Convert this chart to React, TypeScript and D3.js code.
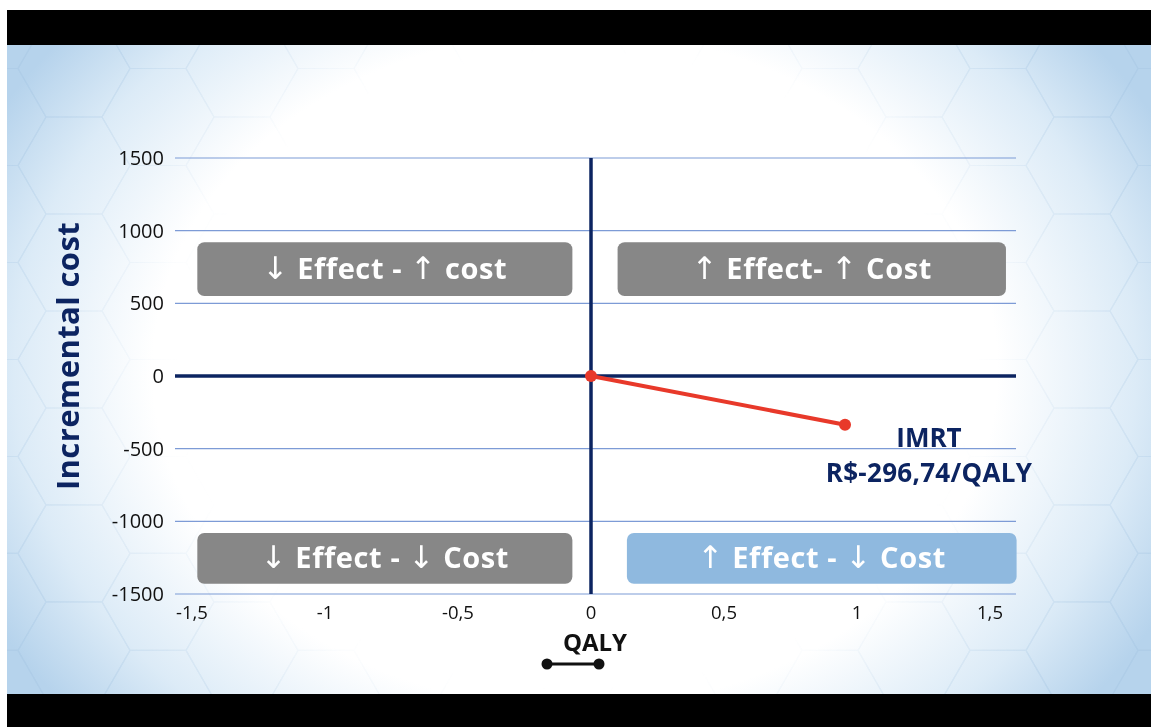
import React from "react";
import * as d3 from "d3";

const W = 1151;
const H = 727;

const yTicks = [1500, 1000, 500, 0, -500, -1000, -1500];
const xTicks = [-1.5, -1, -0.5, 0, 0.5, 1, 1.5];
const xTickLabels = ["-1,5", "-1", "-0,5", "0", "0,5", "1", "1,5"];

// IMRT segment: origin to result point (QALY gained, incremental cost)
const seriesQaly = [0, 0.955];
const seriesCost = [0, -335];

const quadrants = [
  { a1: "↓", t1: " Effect - ", a2: "↑", t2: " cost", x0: -1.48, x1: -0.07, y0: 920, y1: 550, fill: "#878787" },
  { a1: "↑", t1: " Effect- ", a2: "↑", t2: " Cost", x0: 0.1, x1: 1.56, y0: 920, y1: 550, fill: "#878787" },
  { a1: "↓", t1: " Effect - ", a2: "↓", t2: "  Cost", x0: -1.48, x1: -0.07, y0: -1080, y1: -1430, fill: "#878787" },
  { a1: "↑", t1: " Effect - ", a2: "↓", t2: " Cost", x0: 0.135, x1: 1.6, y0: -1080, y1: -1430, fill: "#8fb9df" },
];

export default function App() {
  const x = d3.scaleLinear().domain([-1.5, 1.5]).range([192, 990]);
  const y = d3.scaleLinear().domain([-1500, 1500]).range([594, 158]);
  const gridX0 = 175;
  const gridX1 = 1016;
  const navy = "#0c2461";
  const font = "'Open Sans', 'Noto Sans', sans-serif";
  const arrowFont = "'DejaVu Sans', sans-serif";

  const pts = seriesQaly.map((q, i) => [x(q), y(seriesCost[i])] as [number, number]);
  const line = d3.line()(pts) || "";

  // hex pattern
  const hr = 56;
  const hexPath = d3.range(6).map((k) => {
    const a = (Math.PI / 3) * k;
    return [hr * Math.cos(a), hr * Math.sin(a)];
  });
  const hexD = "M" + hexPath.map((p) => p.join(",")).join("L") + "Z";
  const hexes: [number, number][] = [];
  const dx = hr * 1.5;
  const dy = hr * Math.sqrt(3);
  for (let c = -1; c < 16; c++) {
    for (let r = -1; r < 9; r++) {
      hexes.push([c * dx - 10, r * dy + (c % 2 ? dy / 2 : 0) + 20]);
    }
  }

  return (
    <svg
      width={W}
      height={H}
      style={{ position: "absolute", left: 0, top: 0, display: "block" }}
    >
      <defs>
        <radialGradient id="bg" cx="575" cy="370" r="660" gradientUnits="userSpaceOnUse"
          gradientTransform="translate(575 370) scale(1 0.8) translate(-575 -370)">
          <stop offset="0" stopColor="#ffffff" />
          <stop offset="0.64" stopColor="#ffffff" />
          <stop offset="0.85" stopColor="#dcebf7" />
          <stop offset="1" stopColor="#b6d3ec" />
        </radialGradient>
        <radialGradient id="fade" cx="575" cy="370" r="660" gradientUnits="userSpaceOnUse"
          gradientTransform="translate(575 370) scale(1 0.8) translate(-575 -370)">
          <stop offset="0" stopColor="#fff" stopOpacity="0" />
          <stop offset="0.6" stopColor="#fff" stopOpacity="0" />
          <stop offset="1" stopColor="#fff" stopOpacity="1" />
        </radialGradient>
        <mask id="hexmask">
          <rect x={0} y={0} width={W} height={H} fill="url(#fade)" />
        </mask>
        <clipPath id="area">
          <rect x={7} y={45} width={W - 7} height={649} />
        </clipPath>
      </defs>
      <rect x={0} y={0} width={W} height={H} fill="#ffffff" />
      <g clipPath="url(#area)">
        <rect x={7} y={45} width={W - 7} height={649} fill="url(#bg)" />
        <g mask="url(#hexmask)" opacity={0.4}>
          {hexes.map((h, i) => (
            <path key={i} d={hexD} transform={`translate(${h[0]},${h[1]})`}
              fill="none" stroke="#a6c6e3" strokeWidth={1.2} />
          ))}
        </g>
      </g>
      <rect x={7} y={10} width={W - 7} height={35} fill="#000" />
      <rect x={7} y={694} width={W - 7} height={33} fill="#000" />

      {/* gridlines */}
      {yTicks.filter((t) => t !== 0).map((t) => (
        <line key={t} x1={gridX0} x2={gridX1} y1={y(t)} y2={y(t)} stroke="#7d9bd6" strokeWidth={1.2} />
      ))}

      {/* quadrant boxes */}
      {quadrants.map((q, i) => (
        <g key={i}>
          <rect x={x(q.x0)} y={y(q.y0)} width={x(q.x1) - x(q.x0)} height={y(q.y1) - y(q.y0)}
            rx={7} fill={q.fill} />
          <text x={(x(q.x0) + x(q.x1)) / 2} y={(y(q.y0) + y(q.y1)) / 2 + 10}
            textAnchor="middle" fill="#ffffff" fontFamily={font} fontWeight={700} fontSize={29}
            letterSpacing={0.6}>
            <tspan fontFamily={arrowFont} fontWeight={400} fontSize={31}>{q.a1}</tspan>
            <tspan>{q.t1}</tspan>
            <tspan fontFamily={arrowFont} fontWeight={400} fontSize={31}>{q.a2}</tspan>
            <tspan>{q.t2}</tspan>
          </text>
        </g>
      ))}

      {/* axes */}
      <line x1={gridX0} x2={gridX1} y1={y(0)} y2={y(0)} stroke={navy} strokeWidth={3.5} />
      <line x1={x(0)} x2={x(0)} y1={y(1500)} y2={y(-1500)} stroke={navy} strokeWidth={3.5} />

      {/* y tick labels */}
      {yTicks.map((t) => (
        <text key={t} x={164} y={y(t) + 7} textAnchor="end" fontFamily={font} fontSize={20} fill="#111">
          {String(t)}
        </text>
      ))}
      {/* x tick labels */}
      {xTicks.map((t, i) => (
        <text key={t} x={x(t)} y={619} textAnchor="middle" fontFamily={font} fontSize={18.5} fill="#111">
          {xTickLabels[i]}
        </text>
      ))}

      {/* axis titles */}
      <text transform={`translate(79,356) rotate(-90)`} textAnchor="middle" fontFamily={font}
        fontWeight={700} fontSize={31} letterSpacing={0.4} fill={navy}>
        Incremental cost
      </text>
      <text x={595} y={651} textAnchor="middle" fontFamily={font} fontWeight={700} fontSize={24} fill="#111">
        QALY
      </text>
      <line x1={547} x2={599} y1={664} y2={664} stroke="#111" strokeWidth={3} />
      <circle cx={547} cy={664} r={5.5} fill="#111" />
      <circle cx={599} cy={664} r={5.5} fill="#111" />

      {/* series */}
      <path d={line} fill="none" stroke="#e8392a" strokeWidth={4} />
      {pts.map((p, i) => (
        <circle key={i} cx={p[0]} cy={p[1]} r={6} fill="#e8392a" />
      ))}
      <text x={929} y={447} textAnchor="middle" fontFamily={font} fontWeight={700} fontSize={26} fill={navy}>
        IMRT
      </text>
      <text x={929} y={482} textAnchor="middle" fontFamily={font} fontWeight={700} fontSize={26}
        letterSpacing={0.3} fill={navy}>
        R$-296,74/QALY
      </text>
    </svg>
  );
}
